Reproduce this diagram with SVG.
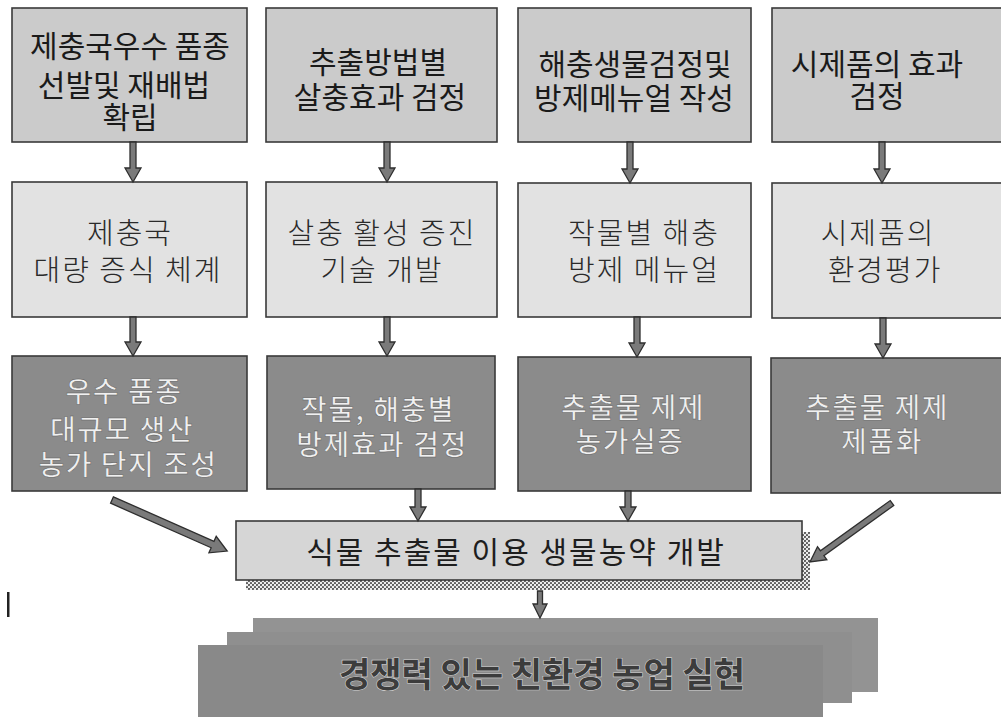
<svg xmlns="http://www.w3.org/2000/svg" width="1001" height="719" viewBox="0 0 1001 719">
<defs>
<style>
.b1{fill:#cbcbcb;stroke:#3a3a3a;stroke-width:1.6}
.b2{fill:#e2e2e2;stroke:#3a3a3a;stroke-width:1.6}
.b3{fill:#8b8b8b;stroke:#3a3a3a;stroke-width:1.6}
.bc{fill:#d6d6d6;stroke:#3a3a3a;stroke-width:1.6}
.t1{font-family:"Noto Sans CJK KR","Noto Sans",sans-serif;font-size:30px;font-weight:400;fill:#1a1a1a;text-anchor:middle}
.t2{font-family:"Noto Sans CJK KR","Noto Sans",sans-serif;font-size:29px;font-weight:300;fill:#2a2a2a;text-anchor:middle;letter-spacing:2px}
.t3{font-family:"Noto Sans CJK KR","Noto Sans",sans-serif;font-size:28px;font-weight:500;fill:#f0f0f0;text-anchor:middle;letter-spacing:1.5px;stroke:#5a5a5a;stroke-width:0.5}
.tc{font-family:"Noto Sans CJK KR","Noto Sans",sans-serif;font-size:30px;font-weight:400;fill:#1e1e1e;text-anchor:middle;letter-spacing:2px}
.tb{font-family:"Noto Sans CJK KR","Noto Sans",sans-serif;font-size:34px;font-weight:700;fill:#3c3c3c;text-anchor:middle;stroke:#d0d0d0;stroke-width:1.2;paint-order:stroke}
.ar{fill:#7a7a7a;stroke:#2e2e2e;stroke-width:1.3;stroke-linejoin:miter}
</style>
<pattern id="chk" width="4" height="4" patternUnits="userSpaceOnUse">
<rect width="4" height="4" fill="#eeeeee"/>
<circle cx="1" cy="1" r="1.1" fill="#555"/>
<circle cx="3" cy="3" r="1.1" fill="#555"/>
</pattern>
</defs>

<g id="top1"><rect class="b1" x="12" y="8" width="235" height="134"/>
<text class="t1"><tspan x="130" y="57">제충국우수 품종</tspan><tspan x="124" y="96">선발및 재배법</tspan><tspan x="130" y="128">확립</tspan></text></g>
<g id="top2"><rect class="b1" x="266" y="8" width="231" height="134"/>
<text class="t1"><tspan x="378" y="73">추출방법별</tspan><tspan x="380" y="108">살충효과 검정</tspan></text></g>
<g id="top3"><rect class="b1" x="518" y="8" width="233" height="134"/>
<text class="t1"><tspan x="635" y="75">해충생물검정및</tspan><tspan x="634" y="109">방제메뉴얼 작성</tspan></text></g>
<g id="top4"><rect class="b1" x="772" y="8" width="232" height="134"/>
<text class="t1"><tspan x="877" y="75">시제품의 효과</tspan><tspan x="877" y="107">검정</tspan></text></g>

<g id="mid1"><rect class="b2" x="12" y="182" width="235" height="135"/>
<text class="t2"><tspan x="130" y="244">제충국</tspan><tspan x="128" y="281">대량 증식 체계</tspan></text></g>
<g id="mid2"><rect class="b2" x="266" y="182" width="231" height="135"/>
<text class="t2"><tspan x="382" y="244">살충 활성 증진</tspan><tspan x="382" y="281">기술 개발</tspan></text></g>
<g id="mid3"><rect class="b2" x="518" y="183" width="233" height="134"/>
<text class="t2"><tspan x="644" y="244">작물별 해충</tspan><tspan x="644" y="281">방제 메뉴얼</tspan></text></g>
<g id="mid4"><rect class="b2" x="772" y="183" width="232" height="135"/>
<text class="t2"><tspan x="878" y="244">시제품의</tspan><tspan x="885" y="281">환경평가</tspan></text></g>

<g id="low1"><rect class="b3" x="12" y="356" width="235" height="135"/>
<text class="t3"><tspan x="124" y="402">우수 품종</tspan><tspan x="122" y="440">대규모 생산</tspan><tspan x="128" y="475">농가 단지 조성</tspan></text></g>
<g id="low2"><rect class="b3" x="267" y="356" width="228" height="133"/>
<text class="t3"><tspan x="378" y="420">작물, 해충별</tspan><tspan x="382" y="455">방제효과 검정</tspan></text></g>
<g id="low3"><rect class="b3" x="518" y="357" width="233" height="134"/>
<text class="t3"><tspan x="633" y="418">추출물 제제</tspan><tspan x="630" y="452">농가실증</tspan></text></g>
<g id="low4"><rect class="b3" x="771" y="358" width="233" height="135"/>
<text class="t3"><tspan x="877" y="418">추출물 제제</tspan><tspan x="882" y="452">제품화</tspan></text></g>

<g id="center">
<rect x="246" y="580" width="564" height="10" fill="url(#chk)"/>
<rect x="802" y="532" width="8" height="58" fill="url(#chk)"/>
<rect class="bc" x="236" y="521" width="566" height="59"/>
<text class="tc" x="516" y="563">식물 추출물 이용 생물농약 개발</text></g>

<g id="goal">
<rect x="253" y="618" width="625" height="74" fill="#939393"/>
<rect x="227" y="632" width="625" height="71" fill="#8f8f8f"/>
<rect x="198" y="645" width="625" height="72" fill="#898989"/>
<text class="tb" x="542" y="687">경쟁력 있는 친환경 농업 실현</text></g>

<g id="mark"><rect x="7" y="592" width="2.5" height="25" fill="#222"/></g>

<g id="connectors">
<g transform="translate(133,142) rotate(90)"><polygon class="ar" points="0,-3 26,-3 26,-8 40,0 26,8 26,3 0,3"/></g>
<g transform="translate(387,142) rotate(90)"><polygon class="ar" points="0,-3 26,-3 26,-8 40,0 26,8 26,3 0,3"/></g>
<g transform="translate(630,142) rotate(90)"><polygon class="ar" points="0,-3 27,-3 27,-8 41,0 27,8 27,3 0,3"/></g>
<g transform="translate(882,142) rotate(90)"><polygon class="ar" points="0,-3 27,-3 27,-8 41,0 27,8 27,3 0,3"/></g>
<g transform="translate(133,317) rotate(90)"><polygon class="ar" points="0,-3 25,-3 25,-8 39,0 25,8 25,3 0,3"/></g>
<g transform="translate(387,317) rotate(90)"><polygon class="ar" points="0,-3 25,-3 25,-8 39,0 25,8 25,3 0,3"/></g>
<g transform="translate(637,317) rotate(90)"><polygon class="ar" points="0,-3 26,-3 26,-8 40,0 26,8 26,3 0,3"/></g>
<g transform="translate(883,318) rotate(90)"><polygon class="ar" points="0,-3 26,-3 26,-8 40,0 26,8 26,3 0,3"/></g>
<g transform="translate(418,489) rotate(90)"><polygon class="ar" points="0,-3 18,-3 18,-8 32,0 18,8 18,3 0,3"/></g>
<g transform="translate(628,491) rotate(90)"><polygon class="ar" points="0,-3 16,-3 16,-8 30,0 16,8 16,3 0,3"/></g>
<g transform="translate(540,591) rotate(90)"><polygon class="ar" points="0,-2.5 13,-2.5 13,-7 27,0 13,7 13,2.5 0,2.5"/></g>
<g transform="translate(112,500) rotate(23.9)"><polygon class="ar" points="0,-3.5 110,-3.5 110,-9 126,0 110,9 110,3.5 0,3.5"/></g>
<g transform="translate(892,503) rotate(144.3)"><polygon class="ar" points="0,-3 86,-3 86,-8 101,0 86,8 86,3 0,3"/></g>
</g>
</svg>
